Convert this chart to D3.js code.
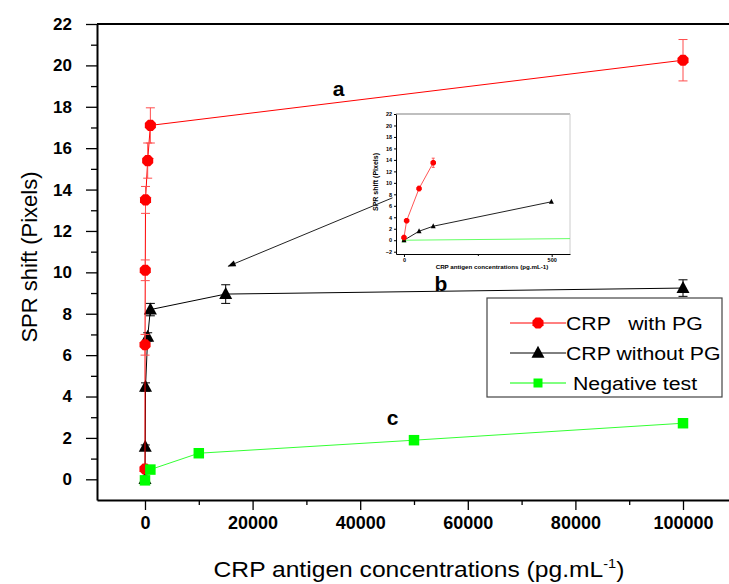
<!DOCTYPE html>
<html><head><meta charset="utf-8">
<script src="https://cdn.jsdelivr.net/npm/d3@7"></script>
<style>
body{margin:0;background:#fff}
svg{display:block}
text{font-family:"Liberation Sans",Arial,sans-serif}
</style>
</head><body>
<svg id="c" width="729" height="584"></svg>
<script>
// ---------- main chart data ----------
const redX = [0, 10, 50, 100, 500, 1000, 100000];
const redY = [0.5, 6.5, 10.1, 13.5, 15.4, 17.1, 20.25];
const redErr = [0.1, 0.5, 0.5, 0.65, 0.85, 0.85, 1.0];

const blackX = [0, 50, 100, 500, 1000, 15000, 100000];
const blackY = [0, 1.56, 4.46, 6.88, 8.2, 8.95, 9.24];
const blackErr = [0.1, 0.1, 0.2, 0.2, 0.3, 0.45, 0.4];

const greenX = [0, 1000, 10000, 50000, 100000];
const greenY = [-0.05, 0.47, 1.26, 1.89, 2.71];

const xTicks = [0, 20000, 40000, 60000, 80000, 100000];
const xMinor = [10000, 30000, 50000, 70000, 90000];
const yTicks = [0, 2, 4, 6, 8, 10, 12, 14, 16, 18, 20, 22];
const yMinor = [1, 3, 5, 7, 9, 11, 13, 15, 17, 19, 21];

const legendLabels = ["CRP   with PG", "CRP without PG", "Negative test"];
const curveLabels = ["a", "b", "c"];

// ---------- inset data ----------
const insetRedX = [0, 9, 51, 99];
const insetRedY = [0.47, 3.4, 9.0, 13.5];
const insetRedErr = [0.2, 0.3, 0.4, 0.8];
const insetBlackX = [0, 51, 99, 499];
const insetBlackY = [0, 1.57, 2.44, 6.7];
const insetGreenX = [0, 1000];
const insetGreenY = [0, 0.5];
const insetXTicks = [0, 500];
const insetXMinor = [250];
const insetYTicks = [-2, 0, 2, 4, 6, 8, 10, 12, 14, 16, 18, 20, 22];

// arrow annotation in data units (main axes)
const arrowFrom = [46000, 13.6];
const arrowTo = [15500, 10.3];

const svg = d3.select("#c");
const RED = "#ff0000", BLACK = "#000000", GREEN = "#00ff00";

// ---------- scales ----------
const x = d3.scaleLinear().domain([-8920, 108550]).range([97, 729]);
const y = d3.scaleLinear().domain([-1, 22]).range([500, 24]);

// ---------- axes ----------
const gx = svg.append("g").attr("transform", `translate(0,${y(-1)})`)
  .call(d3.axisBottom(x).tickValues(xTicks).tickSize(10).tickSizeOuter(0).tickPadding(6).tickFormat(d3.format("d")));
gx.select(".domain").attr("stroke-width", 2);
gx.selectAll(".tick line").attr("stroke-width", 1.3);
gx.selectAll("text").attr("font-size", 18).attr("font-weight", "bold").attr("fill", "#000");
const gxm = svg.append("g").attr("transform", `translate(0,${y(-1)})`)
  .call(d3.axisBottom(x).tickValues(xMinor).tickSize(5).tickFormat(""));
gxm.select(".domain").remove();
gxm.selectAll(".tick line").attr("stroke-width", 1.3);

const gy = svg.append("g").attr("transform", `translate(${x(-8920)},0)`)
  .call(d3.axisLeft(y).tickValues(yTicks).tickSize(11).tickSizeOuter(0).tickPadding(14));
gy.select(".domain").attr("stroke-width", 2);
gy.selectAll(".tick line").attr("stroke-width", 1.3);
gy.selectAll("text").attr("font-size", 17).attr("font-weight", "bold").attr("fill", "#000");
const gym = svg.append("g").attr("transform", `translate(${x(-8920)},0)`)
  .call(d3.axisLeft(y).tickValues(yMinor).tickSize(6).tickFormat(""));
gym.select(".domain").remove();
gym.selectAll(".tick line").attr("stroke-width", 1.3);

// top frame line
svg.append("line").attr("x1", x(-8920)).attr("x2", x(108550))
  .attr("y1", y(22)).attr("y2", y(22)).attr("stroke", "#000").attr("stroke-width", 2);

// axis titles
svg.append("text").attr("transform", "translate(37,257) rotate(-90)")
  .attr("text-anchor", "middle").attr("font-size", 22).text("SPR shift (Pixels)");
const xt = svg.append("text").attr("transform", "translate(419,577) scale(1.12,1)")
  .attr("text-anchor", "middle").attr("font-size", 22);
xt.append("tspan").text("CRP antigen concentrations (pg.mL");
xt.append("tspan").attr("font-size", 13).attr("dy", -9).text("-1");
xt.append("tspan").attr("dy", 9).text(")");

// ---------- marker helpers ----------
function hexPath(r) {
  const pts = d3.range(8).map(i => {
    const a = Math.PI / 8 + i * Math.PI / 4;
    return [r * Math.cos(a), r * Math.sin(a)];
  });
  return "M" + pts.map(p => p.join(",")).join("L") + "Z";
}
function triPath(w, h) { return `M0,${-h * 0.6}L${w / 2},${h * 0.4}L${-w / 2},${h * 0.4}Z`; }
function sqPath(s) { return `M${-s / 2},${-s / 2}h${s}v${s}h${-s}Z`; }

function drawSeries(g, xs, ys, errs, xsc, ysc, color, lineColor, errColor, marker, capW) {
  const pts = xs.map((v, i) => [v, ys[i], errs ? errs[i] : 0]);
  g.append("path").datum(pts)
    .attr("d", d3.line().x(d => xsc(d[0])).y(d => ysc(d[1])))
    .attr("fill", "none").attr("stroke", lineColor).attr("stroke-width", 1);
  if (errs) {
    const e = g.append("g").attr("stroke", errColor).attr("stroke-width", 1);
    pts.forEach(d => {
      if (!d[2]) return;
      e.append("line").attr("x1", xsc(d[0])).attr("x2", xsc(d[0])).attr("y1", ysc(d[1] - d[2])).attr("y2", ysc(d[1] + d[2]));
      [d[1] - d[2], d[1] + d[2]].forEach(v => e.append("line")
        .attr("x1", xsc(d[0]) - capW / 2).attr("x2", xsc(d[0]) + capW / 2).attr("y1", ysc(v)).attr("y2", ysc(v)));
    });
  }
  g.selectAll(null).data(pts).join("path")
    .attr("transform", d => `translate(${xsc(d[0])},${ysc(d[1])})`)
    .attr("d", marker).attr("fill", color);
}

// ---------- inset ----------
const ix = d3.scaleLinear().domain([-27, 562]).range([396, 570]);
const iy = d3.scaleLinear().domain([-2.4, 22]).range([254, 114]);
const inset = svg.append("g");
inset.append("defs").append("clipPath").attr("id", "iclip").append("rect")
  .attr("x", 396).attr("y", 114).attr("width", 174).attr("height", 140);
inset.append("line").attr("x1", 396).attr("x2", 570).attr("y1", iy(22)).attr("y2", iy(22)).attr("stroke", "#aaa").attr("stroke-width", 1.5);
inset.append("line").attr("x1", 570).attr("x2", 570).attr("y1", iy(22)).attr("y2", iy(-2.4)).attr("stroke", "#ccc").attr("stroke-width", 1);
const igx = inset.append("g").attr("transform", `translate(0,${iy(-2.4)})`)
  .call(d3.axisBottom(ix).tickValues(insetXTicks).tickSize(3).tickSizeOuter(0).tickPadding(1));
igx.selectAll("text").attr("font-size", 5.5).attr("font-weight", "bold");
inset.append("g").attr("transform", `translate(0,${iy(-2.4)})`)
  .call(d3.axisBottom(ix).tickValues(insetXMinor).tickSize(2).tickFormat(""))
  .select(".domain").remove();
const igy = inset.append("g").attr("transform", `translate(396,0)`)
  .call(d3.axisLeft(iy).tickValues(insetYTicks).tickSize(2).tickSizeOuter(0).tickPadding(2));
igy.selectAll("text").attr("font-size", 5.5).attr("font-weight", "bold");
inset.append("text").attr("transform", "translate(378,182) rotate(-90)")
  .attr("text-anchor", "middle").attr("font-size", 7).attr("font-weight", "bold").text("SPR shift (Pixels)");
inset.append("text").attr("x", 492).attr("y", 268.5).attr("text-anchor", "middle")
  .attr("font-size", 6.2).attr("font-weight", "bold").text("CRP antigen concentrations (pg.mL-1)");
const iplot = inset.append("g").attr("clip-path", "url(#iclip)");
drawSeries(iplot, insetGreenX, insetGreenY, null, ix, iy, GREEN, "#66ff66", GREEN, sqPath(4), 0);
drawSeries(iplot, insetBlackX, insetBlackY, null, ix, iy, BLACK, "#222", BLACK, triPath(5, 5), 0);
drawSeries(iplot, insetRedX, insetRedY, insetRedErr, ix, iy, RED, "#ff5555", "#ff5555", hexPath(3), 3);

// ---------- arrow ----------
svg.append("defs").append("marker").attr("id", "ah").attr("viewBox", "0 0 10 10")
  .attr("refX", 9).attr("refY", 5).attr("markerWidth", 10).attr("markerHeight", 8)
  .attr("markerUnits", "userSpaceOnUse").attr("orient", "auto")
  .append("path").attr("d", "M0,1L10,5L0,9Z").attr("fill", "#000");
svg.append("line").attr("x1", x(arrowFrom[0])).attr("y1", y(arrowFrom[1]))
  .attr("x2", x(arrowTo[0])).attr("y2", y(arrowTo[1]))
  .attr("stroke", "#222").attr("stroke-width", 1).attr("marker-end", "url(#ah)");

// ---------- main series ----------
const plot = svg.append("g");
drawSeries(plot, blackX, blackY, blackErr, x, y, BLACK, BLACK, BLACK, triPath(13, 12), 9);
drawSeries(plot, redX, redY, redErr, x, y, RED, RED, "#ff4d4d", hexPath(6), 9);
drawSeries(plot, greenX, greenY, null, x, y, GREEN, "#33ff33", GREEN, sqPath(10.5), 0);

// curve labels
const labelPos = [[36000, 18.5], [55000, 9.1], [46000, 2.6]];
curveLabels.forEach((t, i) => svg.append("text")
  .attr("x", x(labelPos[i][0])).attr("y", y(labelPos[i][1]))
  .attr("text-anchor", "middle").attr("font-size", 21).attr("font-weight", "bold").text(t));

// ---------- legend ----------
const lg = svg.append("g");
lg.append("rect").attr("x", 487).attr("y", 298).attr("width", 235).attr("height", 99)
  .attr("fill", "#fff").attr("stroke", "#444").attr("stroke-width", 1.2);
const legColors = [RED, BLACK, GREEN];
const legMarkers = [hexPath(6), triPath(13, 12), sqPath(9)];
legendLabels.forEach((t, i) => {
  const yy = 323 + i * 30;
  lg.append("line").attr("x1", 510).attr("x2", 566).attr("y1", yy).attr("y2", yy)
    .attr("stroke", legColors[i]).attr("stroke-width", 1);
  lg.append("path").attr("transform", `translate(538,${yy})`).attr("d", legMarkers[i]).attr("fill", legColors[i]);
  lg.append("text").attr("transform", `translate(${i === 2 ? 573 : 566},${yy + 7}) scale(1.12,1)`)
    .attr("font-size", 19).style("white-space", "pre").text(t);
});
</script>
</body></html>
